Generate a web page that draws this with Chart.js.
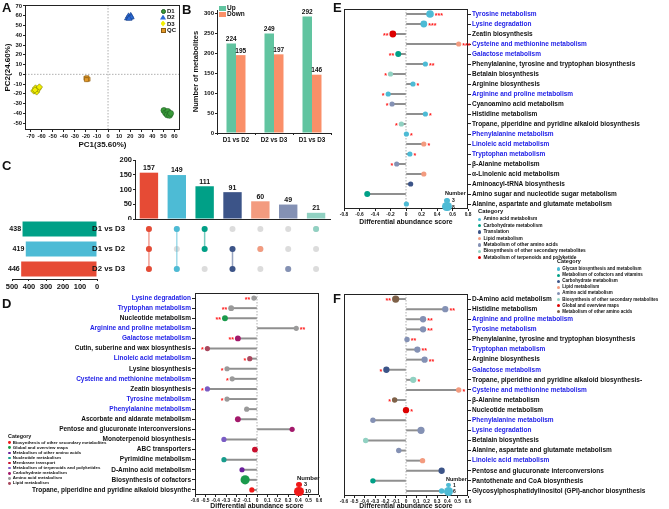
<!DOCTYPE html>
<html>
<head>
<meta charset="utf-8">
<script src="https://cdn.jsdelivr.net/npm/chart.js@4.4.1/dist/chart.umd.min.js"></script>
<style>
  body { margin: 0; background: #fff; }
  #page { position: relative; width: 669px; height: 509px; overflow: hidden; font-family: "Liberation Sans", Arial, sans-serif; color: #111; }
  #page canvas { position: absolute; }
  .txt { position: absolute; transform: translateY(-50%); line-height: 1; white-space: nowrap; font-weight: bold; }
  .mk { position: absolute; }
</style>
</head>
<body>
<div id="page">
  <canvas id="cA" width="182" height="150" style="left:0;top:0"></canvas>
  <canvas id="cB" width="148" height="145" style="left:185px;top:0"></canvas>
  <canvas id="cUp" width="235" height="65" style="left:98px;top:155px"></canvas>
  <canvas id="cSet" width="100" height="72" style="left:0;top:219px"></canvas>
  <canvas id="cMat" width="243" height="60" style="left:90px;top:219px"></canvas>
  <canvas id="cD" width="322" height="220" style="left:0;top:290px"></canvas>
  <canvas id="cE" width="336" height="226" style="left:333px;top:0"></canvas>
  <canvas id="cF" width="336" height="220" style="left:333px;top:290px"></canvas>
</div>
<script>
/*** Data - panel A (PCA scores) ***/
const pcaD1 = [[50.5, -37], [52, -39.5], [54, -38], [53.5, -41.5], [55.5, -42], [56.5, -40]];
const pcaD2 = [[17.5, 57.5], [18.5, 59.5], [19.5, 58], [20.5, 60], [21, 58.5], [19, 57]];
const pcaD3 = [[-67, -17], [-65.5, -14], [-64.5, -18], [-63, -15], [-62, -13], [-66, -16]];
const pcaQC = [[-20, -4], [-19, -3.5], [-18, -5], [-19.5, -5.5]];
const pcaXTicks = [-70, -60, -50, -40, -30, -20, -10, 0, 10, 20, 30, 40, 50, 60];
const pcaYTicks = [-50, -40, -30, -20, -10, 0, 10, 20, 30, 40, 50, 60, 70];

/*** Data - panel B ***/
const bCats = ["D1 vs D2", "D2 vs D3", "D1 vs D3"];
const bUp = [224, 249, 292];
const bDown = [195, 197, 146];
const bYTicks = [0, 50, 100, 150, 200, 250, 300];

/*** Data - panel C (upset) ***/
const upsetSets = ["D1 vs D3", "D1 vs D2", "D2 vs D3"];
const upsetSetSizes = [438, 419, 446];
const upsetSetColors = ["#00a087", "#4dbbd5", "#e64b35"];
const upsetSizes = [157, 149, 111, 91, 60, 49, 21];
const upsetMembers = [[0, 1, 2], [0, 2], [0, 1], [1, 2], [1], [2], [0]];
const upsetColors = ["#e64b35", "#4dbbd5", "#00a087", "#3c5488", "#f39b7f", "#8491b4", "#91d1c2"];
const upsetYTicks = [0, 50, 100, 150, 200];
const setXTicks = [0, 100, 200, 300, 400, 500];

/*** Data - panel D ***/
const dLabels = ["Lysine degradation", "Tryptophan metabolism", "Nucleotide metabolism", "Arginine and proline metabolism",
  "Galactose metabolism", "Cutin, suberine and wax biosynthesis", "Linoleic acid metabolism", "Lysine biosynthesis",
  "Cysteine and methionine metabolism", "Zeatin biosynthesis", "Tyrosine metabolism", "Phenylalanine metabolism",
  "Ascorbate and aldarate metabolism", "Pentose and glucuronate interconversions", "Monoterpenoid biosynthesis",
  "ABC transporters", "Pyrimidine metabolism", "D-Amino acid metabolism", "Biosynthesis of cofactors",
  "Tropane, piperidine and pyridine alkaloid biosynthe"];
const dScores = [-0.03, -0.25, -0.31, 0.38, -0.185, -0.48, -0.07, -0.29, -0.24, -0.48,
  -0.29, -0.10, -0.185, 0.34, -0.32, -0.02, -0.32, -0.145, -0.115, -0.05];
const dCat = [7, 7, 1, 7, 6, 8, 8, 7, 7, 5, 7, 7, 6, 6, 5, 4, 3, 2, 1, 0];
const dCount = [3, 4, 4, 3, 4, 3, 3, 3, 3, 3, 3, 3, 4, 3, 3, 4, 3, 3, 9, 3];
const dStars = ["**", "**", "**", "**", "**", "*", "*", "*", "*", "*", "*", "", "", "", "", "", "", "", "", ""];
const dBlue = [0, 1, 3, 4, 6, 8, 10, 11];
const dXTicks = [-0.6, -0.5, -0.4, -0.3, -0.2, -0.1, 0, 0.1, 0.2, 0.3, 0.4, 0.5, 0.6];
const dCatNames = ["Biosynthesis of other secondary metabolites", "Global and overview maps", "Metabolism of other amino acids",
  "Nucleotide metabolism", "Membrane transport", "Metabolism of terpenoids and polyketides", "Carbohydrate metabolism",
  "Amino acid metabolism", "Lipid metabolism"];
const dCatColors = ["#f01818", "#1b9a4c", "#6b1f9c", "#189c8c", "#c8102e", "#7a5cc4", "#a3196b", "#9a9a9a", "#a8485e"];

/*** Data - panel E ***/
const eLabels = ["Tyrosine metabolism", "Lysine degradation", "Zeatin biosynthesis", "Cysteine and methionine metabolism",
  "Galactose metabolism", "Phenylalanine, tyrosine and tryptophan biosynthesis", "Betalain biosynthesis",
  "Arginine biosynthesis", "Arginine and proline metabolism", "Cyanoamino acid metabolism", "Histidine metabolism",
  "Tropane, piperidine and pyridine alkaloid biosynthesis", "Phenylalanine metabolism", "Linoleic acid metabolism",
  "Tryptophan metabolism", "β-Alanine metabolism", "α-Linolenic acid metabolism", "Aminoacyl-tRNA biosynthesis",
  "Amino sugar and nucleotide sugar metabolism", "Alanine, aspartate and glutamate metabolism"];
const eScores = [0.31, 0.23, -0.17, 0.68, -0.10, 0.25, -0.20, 0.09, -0.23, -0.18,
  0.25, -0.06, 0.005, 0.23, 0.05, -0.12, 0.23, 0.06, -0.50, 0.005];
const eCat = [0, 0, 6, 3, 1, 0, 5, 0, 0, 4, 0, 5, 0, 3, 0, 4, 3, 2, 1, 0];
const eCount = [6, 5, 5, 3, 4, 3, 3, 3, 3, 3, 3, 3, 3, 3, 3, 3, 3, 3, 4, 3];
const eStars = ["***", "***", "**", "***", "**", "**", "*", "*", "*", "*", "*", "*", "*", "*", "*", "*", "", "", "", ""];
const eBlue = [0, 1, 3, 4, 8, 12, 13, 14];
const eXTicks = [-0.8, -0.6, -0.4, -0.2, 0, 0.2, 0.4, 0.6, 0.8];
const eCatNames = ["Amino acid metabolism", "Carbohydrate metabolism", "Translation", "Lipid metabolism",
  "Metabolism of other amino acids", "Biosynthesis of other secondary metabolites", "Metabolism of terpenoids and polyketide"];
const eCatColors = ["#4dbbd5", "#00a087", "#3c5488", "#f39b7f", "#8491b4", "#91d1c2", "#dc0000"];

/*** Data - panel F ***/
const fLabels = ["D-Amino acid metabolism", "Histidine metabolism", "Arginine and proline metabolism", "Tyrosine metabolism",
  "Phenylalanine, tyrosine and tryptophan biosynthesis", "Tryptophan metabolism", "Arginine biosynthesis",
  "Galactose metabolism", "Tropane, piperidine and pyridine alkaloid biosynthesis-", "Cysteine and methionine metabolism",
  "β-Alanine metabolism", "Nucleotide metabolism", "Phenylalanine metabolism", "Lysine degradation",
  "Betalain biosynthesis", "Alanine, aspartate and glutamate metabolism", "Linoleic acid metabolism",
  "Pentose and glucuronate interconversions", "Pantothenate and CoA biosynthesis",
  "Glycosylphosphatidylinositol (GPI)-anchor biosynthesis"];
const fScores = [-0.10, 0.38, 0.165, 0.165, 0.01, 0.11, 0.18, -0.19, 0.07, 0.51,
  -0.11, 0.0, -0.32, 0.145, -0.39, -0.07, 0.16, 0.345, -0.32, 0.345];
const fCat = [7, 4, 4, 4, 4, 4, 4, 2, 5, 3, 7, 6, 4, 4, 5, 4, 3, 2, 1, 0];
const fCount = [4, 3, 3, 3, 2, 3, 3, 3, 3, 2, 2, 3, 2, 4, 2, 2, 2, 3, 2, 2];
const fStars = ["**", "**", "**", "**", "**", "**", "**", "*", "*", "*", "*", "*", "", "", "", "", "", "", "", ""];
const fBlue = [2, 3, 5, 7, 9, 12, 13, 16];
const fXTicks = [-0.6, -0.5, -0.4, -0.3, -0.2, -0.1, 0, 0.1, 0.2, 0.3, 0.4, 0.5, 0.6];
const fCatNames = ["Glycan biosynthesis and metabolism", "Metabolism of cofactors and vitamins", "Carbohydrate metabolism",
  "Lipid metabolism", "Amino acid metabolism", "Biosynthesis of other secondary metabolites", "Global and overview maps",
  "Metabolism of other amino acids"];
const fCatColors = ["#4dbbd5", "#00a087", "#3c5488", "#f39b7f", "#8491b4", "#91d1c2", "#dc0000", "#7e6148"];

/*** Defaults ***/
const FONT = '"Liberation Sans", Arial, sans-serif';
Chart.defaults.font.family = FONT;
Chart.defaults.font.weight = "bold";
Chart.defaults.color = "#111";
Chart.defaults.animation = false;
Chart.defaults.responsive = false;
Chart.defaults.layout.autoPadding = false;
Chart.defaults.plugins.legend.display = false;
Chart.defaults.plugins.tooltip.enabled = false;
const page = document.getElementById("page");
const BLUE = "#2323e8";

/*** Helpers ***/
// fixed axis thickness, and no extra room for end labels
function fit(size) {
    return function (s) {
        if (s.isHorizontal()) s.height = size;
        else s.width = size;
        s.paddingTop = 0;
        s.paddingBottom = 0;
        s.paddingLeft = 0;
        s.paddingRight = 0;
    };
}
// use a fixed list of tick values
function useTicks(list) {
    return function (s) {
        s.ticks = list.map((v) => ({ value: v }));
    };
}
function fmt1(v) {
    const r = Math.round(v * 10) / 10;
    return r === 0 ? "0" : r.toFixed(1);
}
function addText(txt, x, y, size, color) {
    const d = document.createElement("div");
    d.className = "txt";
    d.textContent = txt;
    d.style.left = x + "px";
    d.style.top = y + "px";
    d.style.fontSize = size + "px";
    d.style.color = color || "#111";
    page.appendChild(d);
}
function addMark(x, y, w, h, color, clip, radius, border) {
    const d = document.createElement("div");
    d.className = "mk";
    d.style.cssText = `left:${x - w / 2}px;top:${y - h / 2}px;width:${w}px;height:${h}px;background:${color};`;
    if (clip) d.style.clipPath = clip;
    if (radius) d.style.borderRadius = radius;
    if (border) { d.style.boxSizing = "border-box"; d.style.border = border; }
    page.appendChild(d);
}
function catLegend(x, y, names, colors, step, size, r) {
    addText("Category", x, y, size + 1);
    names.forEach((n, i) => {
        const yy = y + (i + 1.15) * step;
        addMark(x + r, yy, 2 * r, 2 * r, colors[i], null, "50%");
        addText(n, x + 2 * r + 2, yy, size);
    });
}

/*** Plugins ***/
const boxPlugin = {
    id: "box",
    afterDatasetsDraw(chart, args, opts) {
        if (!opts.on) return;
        const a = chart.chartArea, ctx = chart.ctx;
        ctx.save();
        ctx.strokeStyle = "#222";
        ctx.lineWidth = 1;
        ctx.strokeRect(Math.round(a.left) + 0.5, Math.round(a.top) + 0.5, Math.round(a.right - a.left) - 1, Math.round(a.bottom - a.top) - 1);
        ctx.restore();
    }
};
const zeroPlugin = {
    id: "zero",
    beforeDatasetsDraw(chart, args, opts) {
        const a = chart.chartArea, ctx = chart.ctx;
        ctx.save();
        ctx.strokeStyle = "#9a9a9a";
        ctx.lineWidth = 0.8;
        ctx.setLineDash([1.5, 1.5]);
        if (opts.x) {
            const px = chart.scales.x.getPixelForValue(0);
            ctx.beginPath(); ctx.moveTo(px, a.top); ctx.lineTo(px, a.bottom); ctx.stroke();
        }
        if (opts.y) {
            const py = chart.scales.y.getPixelForValue(0);
            ctx.beginPath(); ctx.moveTo(a.left, py); ctx.lineTo(a.right, py); ctx.stroke();
        }
        ctx.restore();
    }
};
const valuePlugin = {
    id: "values",
    afterDatasetsDraw(chart, args, opts) {
        if (!opts.size) return;
        const ctx = chart.ctx;
        ctx.save();
        ctx.fillStyle = "#111";
        ctx.font = "bold " + opts.size + "px " + FONT;
        chart.data.datasets.forEach((ds, i) => {
            chart.getDatasetMeta(i).data.forEach((el, j) => {
                if (chart.options.indexAxis === "y") {
                    ctx.textAlign = "right"; ctx.textBaseline = "middle";
                    ctx.fillText(ds.data[j], el.x - 1.5, el.y);
                } else {
                    ctx.textAlign = "center"; ctx.textBaseline = "bottom";
                    ctx.fillText(ds.data[j], el.x, el.y - 1);
                }
            });
        });
        ctx.restore();
    }
};
const starPlugin = {
    id: "stars",
    afterDatasetsDraw(chart, args, opts) {
        if (!opts.list) return;
        const ctx = chart.ctx, ds = chart.data.datasets[1], meta = chart.getDatasetMeta(1);
        ctx.save();
        ctx.fillStyle = "#ff1a1a";
        ctx.font = "bold 7px " + FONT;
        ctx.textBaseline = "middle";
        meta.data.forEach((pt, i) => {
            const s = opts.list[i];
            if (!s) return;
            const gap = ds.pointRadius[i] + 1;
            if (ds.data[i] >= 0) { ctx.textAlign = "left"; ctx.fillText(s, pt.x + gap, pt.y + 2); }
            else { ctx.textAlign = "right"; ctx.fillText(s, pt.x - gap, pt.y + 2); }
        });
        ctx.restore();
    }
};

/*** Panel A - PCA ***/
function pcaSet(pts, style, fill, edge, r) {
    return {
        data: pts.map((p) => ({ x: p[0], y: p[1] })),
        pointStyle: style, pointRadius: r, backgroundColor: fill, borderColor: edge, borderWidth: 0.6
    };
}
new Chart(document.getElementById("cA"), {
    type: "scatter",
    data: {
        datasets: [
            pcaSet(pcaD1, "circle", "#3a9a3a", "#1d5e22", 3),
            pcaSet(pcaD2, "triangle", "#2c6bd6", "#17408a", 3.4),
            pcaSet(pcaD3, "rectRot", "#f2ee00", "#7a7a00", 3.2),
            pcaSet(pcaQC, "rect", "#e39a2a", "#8a5a10", 2.8)
        ]
    },
    options: {
        layout: { padding: { top: 5, right: 2 } },
        plugins: { box: { on: true }, zero: { x: true, y: true } },
        scales: {
            x: {
                min: -75, max: 65,
                ticks: { font: { size: 5.7 }, maxRotation: 0, autoSkip: false, padding: 1 },
                afterBuildTicks: useTicks(pcaXTicks),
                grid: { drawOnChartArea: false, tickLength: 2, color: "#222" },
                border: { display: false },
                title: { display: true, text: "PC1(35.60%)", font: { size: 8 }, padding: 0 },
                afterFit: fit(20)
            },
            y: {
                min: -57, max: 71,
                ticks: { font: { size: 5.9 }, autoSkip: false, padding: 1 },
                afterBuildTicks: useTicks(pcaYTicks),
                grid: { drawOnChartArea: false, tickLength: 2, color: "#222" },
                border: { display: false },
                title: { display: true, text: "PC2(24.60%)", font: { size: 8 }, padding: { top: 3, bottom: 0 } },
                afterFit: fit(25)
            }
        }
    },
    plugins: [boxPlugin, zeroPlugin]
});
// legend of panel A
addMark(163, 11, 5, 5, "#3a9a3a", null, "50%", "0.6px solid #1d5e22");
addMark(163, 17, 6, 5, "#2c6bd6", "polygon(50% 0, 100% 100%, 0 100%)");
addMark(163, 23.5, 5, 6, "#f2ee00", "polygon(50% 0, 100% 50%, 50% 100%, 0 50%)");
addMark(163, 30, 5, 5, "#e39a2a", null, null, "0.6px solid #8a5a10");
addText("D1", 167, 11, 6);
addText("D2", 167, 17, 6);
addText("D3", 167, 23.5, 6);
addText("QC", 167, 30, 6);

/*** Panel B - up / down counts ***/
new Chart(document.getElementById("cB"), {
    type: "bar",
    data: {
        labels: bCats,
        datasets: [
            { label: "Up", data: bUp, backgroundColor: "#61c4a0", categoryPercentage: 0.5, barPercentage: 1 },
            { label: "Down", data: bDown, backgroundColor: "#fa8f68", categoryPercentage: 0.5, barPercentage: 1 }
        ]
    },
    options: {
        layout: { padding: { top: 10, right: 2 } },
        plugins: { values: { size: 6.5 } },
        scales: {
            x: {
                ticks: { font: { size: 6.3 }, maxRotation: 0, padding: 1 },
                grid: { drawOnChartArea: false, tickLength: 2, color: "#222" },
                border: { color: "#222" },
                afterFit: fit(12)
            },
            y: {
                min: 0, max: 308,
                ticks: { font: { size: 6 }, padding: 1 },
                afterBuildTicks: useTicks(bYTicks),
                grid: { drawOnChartArea: false, tickLength: 2, color: "#222" },
                border: { color: "#222" },
                title: { display: true, text: "Number of metabolites", font: { size: 7.5 }, padding: { top: 6, bottom: 0 } },
                afterFit: fit(32)
            }
        }
    },
    plugins: [valuePlugin]
});
addMark(222, 8, 7, 5, "#61c4a0");
addMark(222, 14, 7, 5, "#fa8f68");
addText("Up", 227, 8, 6.5);
addText("Down", 227, 14, 6.5);

/*** Panel C - upset plot ***/
new Chart(document.getElementById("cUp"), {
    type: "bar",
    data: {
        labels: upsetSizes.map((v, i) => "S" + (i + 1)),
        datasets: [{ data: upsetSizes, backgroundColor: upsetColors, categoryPercentage: 1, barPercentage: 0.66 }]
    },
    options: {
        layout: { padding: { top: 5, right: 3 } },
        plugins: { values: { size: 7 } },
        scales: {
            x: {
                ticks: { display: false },
                grid: { display: false },
                border: { color: "#222" },
                afterFit: fit(1)
            },
            y: {
                min: 0, max: 200,
                ticks: { font: { size: 7.5 }, padding: 1 },
                afterBuildTicks: useTicks(upsetYTicks),
                grid: { drawOnChartArea: false, tickLength: 2, color: "#222" },
                border: { color: "#222" },
                afterFit: fit(37)
            }
        }
    },
    plugins: [valuePlugin]
});

const matrixSets = [{
    data: upsetSizes.flatMap((v, i) => upsetSets.map((s, j) => ({ x: i, y: j }))),
    pointRadius: 3, backgroundColor: "#dcdcdc", borderWidth: 0, showLine: false, order: 10
}];
upsetMembers.forEach((m, i) => {
    matrixSets.push({
        data: m.map((j) => ({ x: i, y: j })),
        showLine: true, borderColor: upsetColors[i] + "88", borderWidth: 1.5,
        pointRadius: 3, pointBackgroundColor: upsetColors[i], pointBorderWidth: 0, order: 1
    });
});
new Chart(document.getElementById("cMat"), {
    type: "scatter",
    data: { datasets: matrixSets },
    options: {
        layout: { padding: { right: 3 } },
        scales: {
            x: { display: false, min: -0.5, max: 6.5 },
            y: {
                min: -0.5, max: 2.5, reverse: true,
                ticks: { font: { size: 7.8 }, padding: 2, autoSkip: false, callback: (v) => upsetSets[v] },
                afterBuildTicks: useTicks([0, 1, 2]),
                grid: { display: false },
                border: { display: false },
                afterFit: fit(45)
            }
        }
    }
});

new Chart(document.getElementById("cSet"), {
    type: "bar",
    data: {
        labels: upsetSets,
        datasets: [{ data: upsetSetSizes, backgroundColor: upsetSetColors, categoryPercentage: 1, barPercentage: 0.75 }]
    },
    options: {
        indexAxis: "y",
        layout: { padding: { left: 12, right: 3 } },
        plugins: { values: { size: 7 } },
        scales: {
            x: {
                min: 0, max: 500, reverse: true,
                ticks: { font: { size: 7.5 }, padding: 1, maxRotation: 0, autoSkip: false },
                afterBuildTicks: useTicks(setXTicks),
                grid: { drawOnChartArea: false, tickLength: 2, color: "#222" },
                border: { color: "#222" },
                afterFit: fit(12)
            },
            y: { display: false }
        }
    },
    plugins: [valuePlugin]
});

/*** Panels D, E, F - lollipop charts ***/
function lollipop(id, o) {
    const radius = o.counts.map((n) => o.r0 + o.rk * n);
    new Chart(document.getElementById(id), {
        type: "bar",
        data: {
            labels: o.labels,
            datasets: [
                { type: "bar", indexAxis: "y", data: o.scores, backgroundColor: "#8f8f8f", barThickness: 1.3, order: 2 },
                {
                    type: "line", indexAxis: "y", data: o.scores, showLine: false, order: 1,
                    pointRadius: radius, pointHoverRadius: radius, pointBorderWidth: 0,
                    pointBackgroundColor: o.cats.map((c) => o.colors[c])
                }
            ]
        },
        options: {
            indexAxis: "y",
            layout: { padding: o.pad },
            plugins: { box: { on: true }, zero: { x: true }, stars: { list: o.stars } },
            scales: {
                x: {
                    min: o.ticks[0], max: o.ticks[o.ticks.length - 1],
                    ticks: { font: { size: 4.8 }, maxRotation: 0, autoSkip: false, padding: 1, callback: fmt1 },
                    afterBuildTicks: useTicks(o.ticks),
                    grid: { drawOnChartArea: false, tickLength: 2, color: "#222" },
                    border: { display: false },
                    title: { display: true, text: "Differential abundance score", font: { size: 6.8 }, padding: 0 },
                    afterFit: fit(o.xh)
                },
                y: {
                    position: o.side,
                    ticks: { font: { size: 6.5 }, autoSkip: false, padding: 1, color: (c) => (o.blue.includes(c.index) ? BLUE : "#111") },
                    grid: { drawOnChartArea: false, offset: false, tickLength: 3, color: "#222" },
                    border: { display: false },
                    afterFit: fit(o.yw)
                }
            }
        },
        plugins: [boxPlugin, zeroPlugin, starPlugin]
    });
}

lollipop("cD", {
    labels: dLabels, scores: dScores, cats: dCat, colors: dCatColors, counts: dCount, stars: dStars, blue: dBlue,
    ticks: dXTicks, r0: 1.6, rk: 0.33, side: "left", yw: 195, xh: 15, pad: { top: 3, right: 3 }
});
lollipop("cE", {
    labels: eLabels, scores: eScores, cats: eCat, colors: eCatColors, counts: eCount, stars: eStars, blue: eBlue,
    ticks: eXTicks, r0: 1.4, rk: 0.4, side: "right", yw: 201, xh: 17, pad: { top: 9, left: 11 }
});
lollipop("cF", {
    labels: fLabels, scores: fScores, cats: fCat, colors: fCatColors, counts: fCount, stars: fStars, blue: fBlue,
    ticks: fXTicks, r0: 1.8, rk: 0.45, side: "right", yw: 201, xh: 14, pad: { top: 4, left: 11 }
});

/*** Legends and panel tags ***/
catLegend(8, 437, dCatNames, dCatColors, 5.05, 4.4, 1.4);
catLegend(478, 212, eCatNames, eCatColors, 6.4, 4.8, 1.7);
catLegend(557, 262, fCatNames, fCatColors, 6.1, 4.5, 1.6);

addText("Number", 297, 478, 6);
addMark(299, 484.5, 2 * (1.6 + 0.33 * 3), 2 * (1.6 + 0.33 * 3), "#f01818", null, "50%");
addMark(299, 491.5, 2 * (1.6 + 0.33 * 10), 2 * (1.6 + 0.33 * 10), "#f01818", null, "50%");
addText("3", 304, 484.5, 5.5);
addText("10", 305, 491.5, 5.5);

addText("Number", 445, 193.5, 5.5);
addMark(447, 200.3, 2 * (1.4 + 0.4 * 3), 2 * (1.4 + 0.4 * 3), "#4dbbd5", null, "50%");
addMark(447, 206.7, 2 * (1.4 + 0.4 * 8), 2 * (1.4 + 0.4 * 8), "#4dbbd5", null, "50%");
addText("3", 452, 200.3, 5);
addText("8", 452, 206.7, 5);

addText("Number", 446, 479.5, 5.5);
addMark(448.5, 485, 2 * (1.8 + 0.45 * 1), 2 * (1.8 + 0.45 * 1), "#4dbbd5", null, "50%");
addMark(448.5, 491, 2 * (1.8 + 0.45 * 6), 2 * (1.8 + 0.45 * 6), "#4dbbd5", null, "50%");
addText("1", 453, 485, 5);
addText("6", 453, 491, 5);

addText("A", 2, 7, 13);
addText("B", 182, 9, 13);
addText("C", 2, 165, 13);
addText("D", 2, 303, 13);
addText("E", 333, 7, 13);
addText("F", 333, 298, 13);
</script>
</body>
</html>
